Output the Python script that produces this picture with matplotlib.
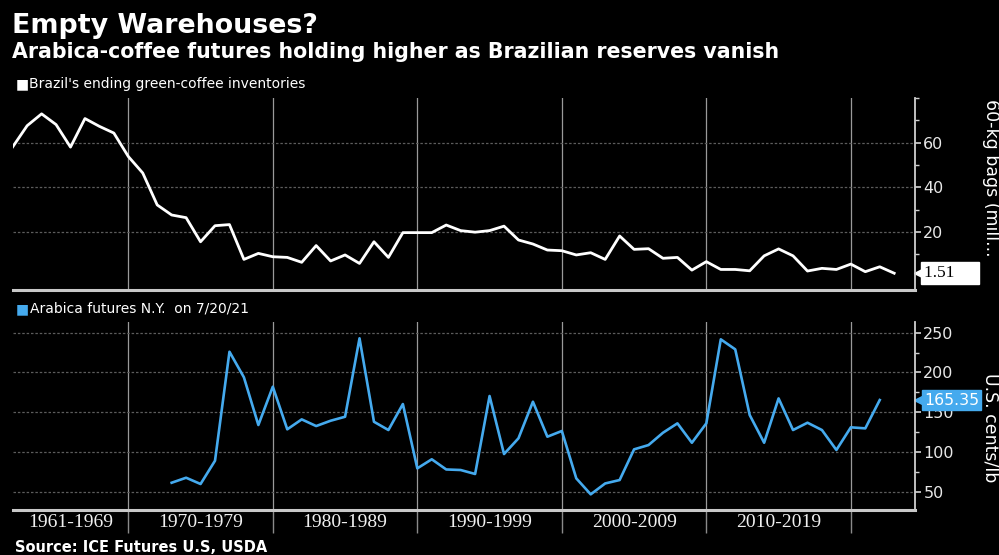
import matplotlib
matplotlib.use("Agg")
import matplotlib.pyplot as plt
import matplotlib.transforms as mtransforms

# ---------------- data ----------------
inv_years = list(range(1961, 2023))
inventories = [58.1, 67.6, 72.9, 68.1, 58.0, 70.8, 67.3, 64.3, 53.8, 46.4,
               32.1, 27.6, 26.4, 15.6, 22.8, 23.3, 7.7, 10.4, 8.9, 8.6,
               6.4, 13.9, 7.0, 9.7, 5.9, 15.6, 8.6, 19.7, 19.7, 19.7,
               23.1, 20.6, 19.9, 20.6, 22.6, 16.4, 14.6, 11.9, 11.6, 9.7,
               10.7, 7.7, 18.2, 12.2, 12.5, 8.2, 8.6, 2.9, 6.7, 3.2,
               3.2, 2.6, 9.3, 12.4, 9.3, 2.5, 3.7, 3.2, 5.6, 2.2,
               4.4, 1.51]
fut_years = list(range(1972, 2022))
futures = [61.3, 67.6, 59.7, 89.0, 226.1, 193.9, 133.9, 182.1, 128.5, 141.0,
           132.6, 139.3, 144.3, 243.0, 138.0, 127.6, 160.3, 79.4, 90.8, 78.0,
           77.3, 72.3, 170.4, 97.4, 117.2, 163.2, 119.2, 126.4, 66.8, 46.7,
           60.4, 64.7, 103.3, 108.7, 124.2, 136.0, 111.6, 136.0, 241.7, 229.1,
           146.5, 111.6, 167.4, 127.6, 136.8, 127.6, 102.5, 131.0, 129.7, 165.35]
decade_bounds = [1969, 1979, 1989, 1999, 2009, 2019]
decade_centers = [1965, 1974, 1984, 1994, 2004, 2014]
decade_labels = ["1961-1969", "1970-1979", "1980-1989", "1990-1999", "2000-2009", "2010-2019"]
inv_ticks = [20, 40, 60]
inv_minor = [10, 30, 50, 70, 80]
fut_ticks = [50, 100, 150, 200, 250]
fut_minor = [75, 125, 175, 225]

title = "Empty Warehouses?"
subtitle = "Arabica-coffee futures holding higher as Brazilian reserves vanish"
legend1 = "Brazil's ending green-coffee inventories"
legend2 = "Arabica futures N.Y.  on 7/20/21"
ylabel1 = "60-kg bags (mill..."
ylabel2 = "U.S. cents/lb"
source = "Source: ICE Futures U.S, USDA"
last_inv_label = "1.51"
last_fut_label = "165.35"

# ---------------- figure ----------------
W, H = 999, 555
fig = plt.figure(figsize=(W / 100, H / 100), dpi=100, facecolor="black")

def box(left, top, right, bottom):
    return [left / W, 1 - bottom / H, (right - left) / W, (bottom - top) / H]

AX_L, AX_R = 12.7, 915
ax1 = fig.add_axes(box(AX_L, 98, AX_R, 290))
ax2 = fig.add_axes(box(AX_L, 322, AX_R, 510))

def xfrac(px):
    return (px - AX_L) / (AX_R - AX_L)

XMIN, XMAX = 1961, 2023.44
BLUE = "#45aaee"

for ax in (ax1, ax2):
    ax.set_facecolor("black")
    ax.set_xlim(XMIN, XMAX)
    ax.spines["top"].set_visible(False)
    ax.spines["left"].set_visible(False)
    ax.spines["right"].set_color("#d0d0d0")
    ax.spines["right"].set_linewidth(1.3)
    ax.spines["bottom"].set_color("#c8c8c8")
    ax.spines["bottom"].set_linewidth(2.2)
    ax.yaxis.tick_right()
    ax.set_xticks(decade_bounds)
    ax.grid(axis="x", color="#9a9a9a", lw=0.9)
    ax.grid(axis="y", which="major", color="#5c5c5c", lw=0.9, ls=(0, (2, 1.5)))
    ax.set_axisbelow(True)
    ax.tick_params(axis="y", which="major", colors="#e8e8e8", labelsize=11.5,
                   length=4, width=1.1, pad=2)
    ax.tick_params(axis="y", which="minor", colors="#d0d0d0", length=3, width=1)

# top panel
ax1.plot(inv_years, inventories, color="white", lw=2.0)
ax1.set_ylim(-6, 80)
ax1.set_yticks(inv_ticks)
ax1.set_yticks(inv_minor, minor=True)
ax1.tick_params(axis="x", which="both", length=0, labelbottom=False)

# bottom panel
ax2.plot(fut_years, futures, color=BLUE, lw=1.9)
ax2.set_ylim(27, 263.5)
ax2.set_yticks(fut_ticks)
ax2.set_yticks(fut_minor, minor=True)
ax2.tick_params(axis="x", which="major", length=16.5, width=1.0, color="#8a8a8a",
                labelbottom=False, direction="out")
ax2.set_xticks(decade_centers, minor=True)
ax2.set_xticklabels(decade_labels, minor=True, fontfamily="Liberation Serif",
                    fontsize=14, color="#f0f0f0")
ax2.tick_params(axis="x", which="minor", length=0, pad=3)

# last-value callouts
tr1 = mtransforms.blended_transform_factory(ax1.transAxes, ax1.transData)
ax1.text(xfrac(924), inventories[-1], last_inv_label + "     ", transform=tr1,
         ha="left", va="center", fontfamily="Liberation Serif", fontsize=12.5,
         color="black", clip_on=False,
         bbox=dict(boxstyle="square,pad=0.18", fc="white", ec="white"))
ax1.plot([xfrac(920)], [inventories[-1]], marker="<", ms=9, color="white",
         mec="white", transform=tr1, clip_on=False)
tr2 = mtransforms.blended_transform_factory(ax2.transAxes, ax2.transData)
ax2.text(xfrac(924), futures[-1], last_fut_label, transform=tr2, ha="left",
         va="center", fontsize=11.3, color="white", clip_on=False,
         bbox=dict(boxstyle="square,pad=0.15", fc=BLUE, ec=BLUE))
ax2.plot([xfrac(920)], [futures[-1]], marker="<", ms=9, color=BLUE,
         mec=BLUE, transform=tr2, clip_on=False)

# right-side axis titles
fig.text(991 / W, 1 - 99 / H, ylabel1, rotation=-90, ha="center", va="top",
         fontsize=12.5, color="white")
fig.text(991 / W, 1 - 428 / H, ylabel2, rotation=-90, ha="center", va="center",
         fontsize=12.5, color="white")

# titles
fig.text(12 / W, 1 - 33 / H, title, fontsize=19.4, fontweight="bold", color="white",
         ha="left", va="baseline")
fig.text(12 / W, 1 - 58 / H, subtitle, fontsize=14.8, fontweight="bold", color="white",
         ha="left", va="baseline")

# legends
fig.text(16 / W, 1 - 88 / H, "\u25a0", fontsize=10, color="white", ha="left", va="baseline")
fig.text(29 / W, 1 - 88 / H, legend1, fontsize=10, color="white", ha="left", va="baseline")
fig.text(16 / W, 1 - 313 / H, "\u25a0", fontsize=10, color=BLUE, ha="left", va="baseline")
fig.text(30 / W, 1 - 313 / H, legend2, fontsize=10, color="white", ha="left", va="baseline")

# source
fig.text(15 / W, 1 - 552 / H, source, fontsize=10.5, fontweight="bold", color="white",
         ha="left", va="baseline")

fig.savefig("out.png", dpi=100, facecolor="black")
